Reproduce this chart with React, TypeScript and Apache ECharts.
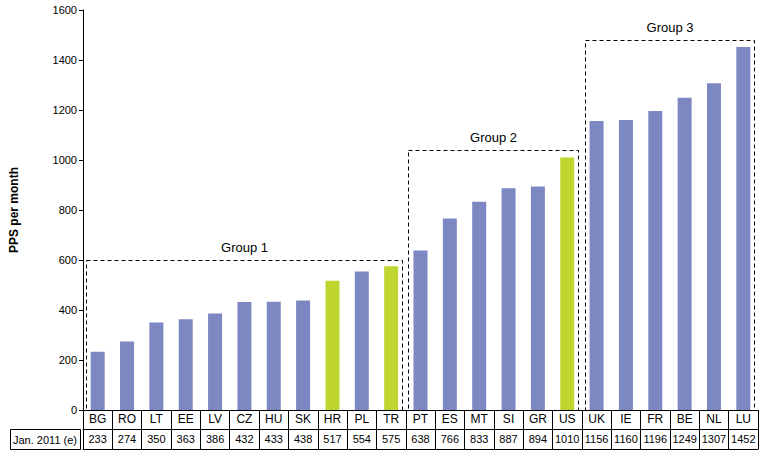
import React, { useEffect, useRef } from "react";
import * as echarts from "echarts";

const categories = ["BG","RO","LT","EE","LV","CZ","HU","SK","HR","PL","TR","PT","ES","MT","SI","GR","US","UK","IE","FR","BE","NL","LU"];
const values = [233,274,350,363,386,432,433,438,517,554,575,638,766,833,887,894,1010,1156,1160,1196,1249,1307,1452];
const highlighted = ["HR","TR","US"];
const rowLabel = "Jan. 2011 (e)";
const yTicks = { min: 0, max: 1600, interval: 200 };
// groups: [first category index, last category index, box top value]
const groupRanges = [[0, 10, 600], [11, 16, 1040], [17, 22, 1480]];
const groupNames = ["Group 1", "Group 2", "Group 3"];

const BLUE = "#7d88c3";
const GREEN = "#bfd631";
const FONT = "Liberation Sans, Arial, sans-serif";

export default function App() {
  const ref = useRef<HTMLDivElement>(null);
  useEffect(() => {
    if (!ref.current) return;
    const chart = echarts.init(ref.current, null, { renderer: "svg" });
    chart.setOption({
      animation: false,
      backgroundColor: "#fff",
      textStyle: { fontFamily: FONT },
      grid: { left: 80, right: 8, top: 10, bottom: 45 },
      xAxis: [
        {
          type: "category",
          data: categories,
          position: "bottom",
          axisLine: { show: true, lineStyle: { color: "#000", width: 1 } },
          axisTick: { show: true, length: 19, lineStyle: { color: "#000" } },
          axisLabel: { color: "#000", fontSize: 12, margin: 3, interval: 0, fontFamily: FONT },
          splitLine: { show: false },
        },
        {
          type: "category",
          data: categories,
          position: "bottom",
          offset: 19,
          axisLine: { show: true, lineStyle: { color: "#000", width: 1 } },
          axisTick: { show: true, length: 20, lineStyle: { color: "#000" } },
          axisLabel: {
            color: "#000",
            fontSize: 11,
            margin: 4,
            interval: 0,
            fontFamily: FONT,
            formatter: (_v: string, i: number) => String(values[i]),
          },
        },
        {
          type: "category",
          data: categories,
          position: "bottom",
          offset: 39,
          axisLine: { show: true, lineStyle: { color: "#000", width: 1 } },
          axisTick: { show: false },
          axisLabel: { show: false },
        },
      ],
      yAxis: {
        type: "value",
        min: yTicks.min,
        max: yTicks.max,
        interval: yTicks.interval,
        name: "PPS per month",
        nameLocation: "middle",
        nameGap: 63,
        nameTextStyle: { color: "#000", fontWeight: "bold", fontSize: 12, fontFamily: FONT },
        axisLine: { show: true, lineStyle: { color: "#000" } },
        axisTick: { show: true, length: 4, lineStyle: { color: "#000" } },
        axisLabel: {
          color: "#000",
          fontSize: 11,
          margin: 6,
          fontFamily: FONT,
          formatter: (v: number) => String(v),
        },
        splitLine: { show: false },
      },
      graphic: [
        {
          type: "rect",
          shape: { x: 10.5, y: 429.5, width: 70, height: 20 },
          style: { fill: "none", stroke: "#000", lineWidth: 1 },
        },
        {
          type: "text",
          x: 45,
          y: 439.5,
          style: {
            text: rowLabel,
            fill: "#000",
            font: `11px ${FONT}`,
            textAlign: "center",
            textVerticalAlign: "middle",
          },
        },
      ],
      series: [
        {
          type: "bar",
          xAxisIndex: 0,
          barWidth: 14,
          data: values.map((v, i) => ({
            value: v,
            itemStyle: { color: highlighted.includes(categories[i]) ? GREEN : BLUE },
          })),
        },
        {
          type: "custom",
          xAxisIndex: 0,
          clip: false,
          z: 5,
          data: groupRanges,
          renderItem: (params: any, api: any) => {
            const s = api.coord([api.value(0), api.value(2)]);
            const e = api.coord([api.value(1), 0]);
            const bw = api.size([1, 0])[0];
            const x0 = Math.round(s[0] - bw * 0.41) + 0.5;
            const x1 = Math.round(e[0] + bw * 0.38) + 0.5;
            const y0 = Math.round(s[1]) + 0.5;
            const y1 = Math.round(e[1]) + 0.5;
            return {
              type: "group",
              children: [
                {
                  type: "rect",
                  shape: { x: x0, y: y0, width: x1 - x0, height: y1 - y0 },
                  style: { fill: "none", stroke: "#000", lineWidth: 1, lineDash: [4, 3] },
                },
                {
                  type: "text",
                  x: (x0 + x1) / 2,
                  y: y0 - 7,
                  style: {
                    text: groupNames[params.dataIndex],
                    fill: "#000",
                    font: `13px ${FONT}`,
                    textAlign: "center",
                    textVerticalAlign: "bottom",
                  },
                },
              ],
            };
          },
        },
      ],
    });
    return () => chart.dispose();
  }, []);
  return (
    <div
      ref={ref}
      style={{ position: "absolute", left: 0, top: 0, width: 766, height: 455 }}
    />
  );
}
